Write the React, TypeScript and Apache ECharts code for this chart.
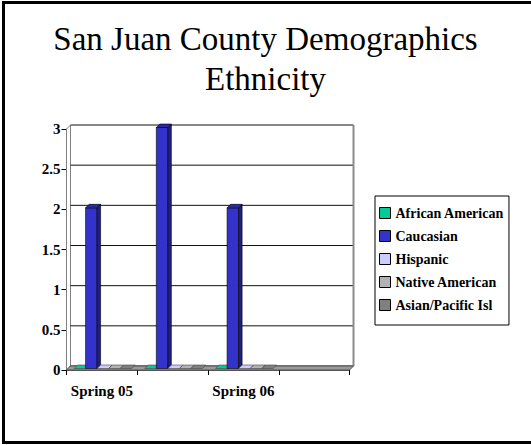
import React, { useEffect, useRef } from "react";
import * as echarts from "echarts";

const categories = ["Spring 05", "", "Spring 06", ""];
const seriesNames = ["African American", "Caucasian", "Hispanic", "Native American", "Asian/Pacific Isl"];
const africanAmerican = [0, 0, 0, null];
const caucasian = [2, 3, 2, null];
const hispanic = [0, 0, 0, null];
const nativeAmerican = [0, 0, 0, null];
const asianPacific = [0, 0, 0, null];
const yTicks = [0, 0.5, 1, 1.5, 2, 2.5, 3];

const seriesValues = [africanAmerican, caucasian, hispanic, nativeAmerican, asianPacific];
const fronts = ["#00CC99", "#3333CC", "#CCCCFF", "#B2B2B2", "#808080"];
const sides = ["#008A66", "#1F1F80", "#8A8AB0", "#7A7A7A", "#555555"];
const tops = ["#00A37A", "#2929A3", "#A8A8D6", "#999999", "#6B6B6B"];

const D = 4;
const SERIF = "'Liberation Serif', 'Times New Roman', serif";

export default function App() {
  const ref = useRef<HTMLDivElement>(null);
  useEffect(() => {
    const chart = echarts.init(ref.current!, null, { renderer: "svg" });
    const barSeries = seriesValues.map((vals, i) => ({
      type: "custom",
      name: seriesNames[i],
      coordinateSystem: "cartesian2d",
      itemStyle: { color: fronts[i] },
      z: 5,
      data: vals.map((v, c) => [c, v]),
      renderItem: (params: any, api: any) => {
        const v = api.value(1);
        if (v === null || v === undefined || isNaN(v)) return null;
        const c = api.value(0);
        const base = api.coord([c, 0]);
        const top = api.coord([c, v]);
        const bandW = api.size([1, 0])[0];
        const barW = bandW * 0.163;
        const x0 = base[0] - 2.5 * barW + i * barW + 1;
        const yb = base[1] - 1.5;
        const yt = top[1] - 1.5;
        const d = 3.5;
        return {
          type: "group",
          children: [
            {
              type: "rect",
              shape: { x: x0, y: yt, width: barW, height: yb - yt },
              style: { fill: fronts[i], stroke: "#000", lineWidth: v > 0 ? 0.6 : 0 },
            },
            {
              type: "polygon",
              shape: { points: [[x0 + barW, yt], [x0 + barW + d, yt - d], [x0 + barW + d, yb - d], [x0 + barW, yb]] },
              style: { fill: sides[i], stroke: "#000", lineWidth: v > 0 ? 0.6 : 0 },
            },
            {
              type: "polygon",
              shape: { points: [[x0, yt], [x0 + d, yt - d], [x0 + barW + d, yt - d], [x0 + barW, yt]] },
              style: { fill: v > 0 ? tops[i] : fronts[i], stroke: v > 0 ? "#000" : "#444", lineWidth: 0.6 },
            },
          ],
        };
      },
    }));

    const wallSeries = {
      type: "custom",
      name: "walls",
      coordinateSystem: "cartesian2d",
      z: 1,
      silent: true,
      data: [[0, 0]],
      renderItem: (params: any, api: any) => {
        const cs = params.coordSys;
        const gx = cs.x, gy = cs.y, gw = cs.width, gh = cs.height;
        const children: any[] = [];
        children.push({
          type: "polygon",
          shape: { points: [[gx, gy + gh], [gx, gy], [gx + D, gy - D], [gx + D, gy + gh - D]] },
          style: { fill: "#ffffff", stroke: "#808080", lineWidth: 1 },
        });
        yTicks.forEach((t) => {
          const p = api.coord([0, t]);
          children.push({
            type: "line",
            shape: { x1: gx + D, y1: p[1] - D, x2: gx + gw + D, y2: p[1] - D },
            style: { stroke: "#111", lineWidth: 1 },
          });
        });
        children.push({
          type: "line",
          shape: { x1: gx + gw + D, y1: gy - D, x2: gx + gw + D, y2: gy + gh - D },
          style: { stroke: "#8a8a8a", lineWidth: 2 },
        });
        children.push({
          type: "polygon",
          shape: { points: [[gx, gy + gh], [gx + gw, gy + gh], [gx + gw + D, gy + gh - D], [gx + D, gy + gh - D]] },
          style: { fill: "#9a9a9a", stroke: "#555", lineWidth: 1 },
        });
        return { type: "group", children };
      },
    };

    chart.setOption({
      animation: false,
      backgroundColor: "#ffffff",
      textStyle: { fontFamily: SERIF },
      title: {
        text: "San Juan County Demographics\nEthnicity",
        left: "center",
        top: 14,
        textStyle: { fontFamily: SERIF, fontSize: 33, fontWeight: "normal", color: "#000", lineHeight: 40 },
      },
      legend: {
        orient: "vertical",
        left: 375,
        top: 196,
        data: seriesNames,
        selectedMode: false,
        icon: "rect",
        itemWidth: 11,
        itemHeight: 11,
        itemGap: 9,
        padding: [10, 5, 13, 4],
        borderColor: "#000",
        borderWidth: 1,
        itemStyle: { borderColor: "#000", borderWidth: 1 },
        textStyle: { fontFamily: SERIF, fontSize: 14, fontWeight: "bold", color: "#000", lineHeight: 14 },
      },
      grid: { left: 66.5, right: 181.5, top: 129, bottom: 75, containLabel: false },
      xAxis: {
        type: "category",
        data: categories,
        boundaryGap: true,
        axisLine: { show: true, lineStyle: { color: "#555", width: 1 } },
        axisTick: { show: true, length: 5, lineStyle: { color: "#000" } },
        axisLabel: { interval: 0, margin: 13, fontFamily: SERIF, fontSize: 15, fontWeight: "bold", color: "#000" },
        splitLine: { show: false },
      },
      yAxis: {
        type: "value",
        min: 0,
        max: 3,
        interval: 0.5,
        axisLine: { show: true, lineStyle: { color: "#808080", width: 1 } },
        axisTick: { show: true, length: 5, lineStyle: { color: "#000" } },
        axisLabel: { margin: 6, fontFamily: SERIF, fontSize: 15, fontWeight: "bold", color: "#000" },
        splitLine: { show: false },
      },
      graphic: [
        {
          type: "rect",
          silent: true,
          z: 100,
          shape: { x: 3.5, y: 2.5, width: 600, height: 440 },
          style: { fill: "none", stroke: "#000", lineWidth: 3 },
        },
      ],
      series: [wallSeries, ...barSeries],
    });
    return () => chart.dispose();
  }, []);
  return (
    <div
      ref={ref}
      style={{ position: "fixed", left: 0, top: 0, width: 531, height: 445, background: "#fff" }}
    />
  );
}
